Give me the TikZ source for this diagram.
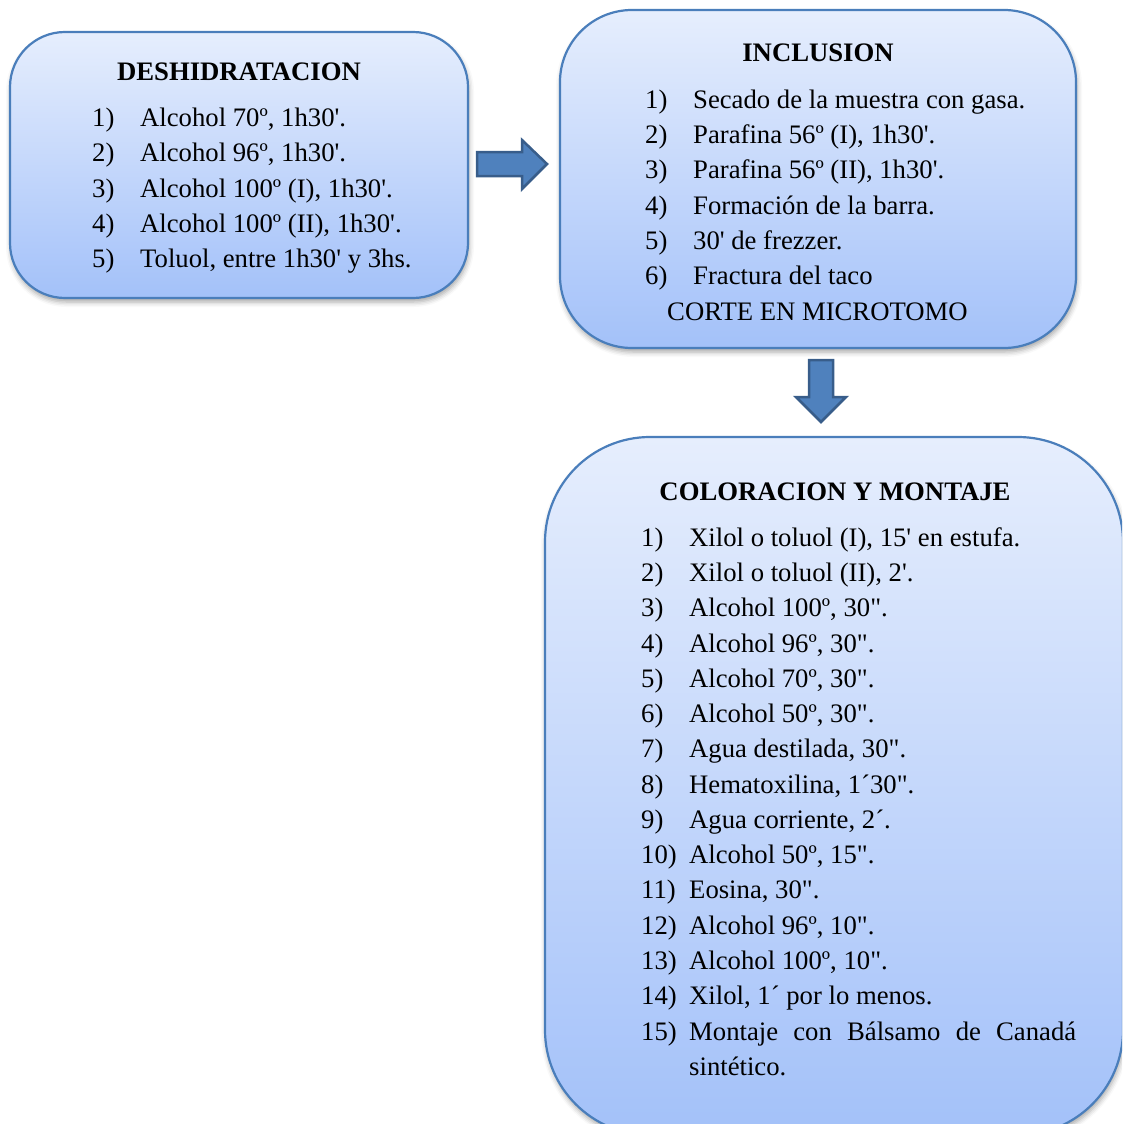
\documentclass[tikz,border=0pt]{standalone}
\usepackage{fontspec}
\setmainfont{Liberation Serif}[Ligatures=TeXOff]
\usetikzlibrary{shadows.blur}
\definecolor{boxtop}{HTML}{E6EEFD}
\definecolor{boxbot}{HTML}{A3C1F9}
\definecolor{boxline}{HTML}{4A7EBB}
\definecolor{arrfill}{HTML}{4F81BD}
\definecolor{arrline}{HTML}{385D8A}
\begin{document}
\begin{tikzpicture}[x=1pt,y=-1pt,
  stage/.style={rectangle, draw=boxline, line width=2.2pt, top color=boxtop,
    bottom color=boxbot, inner sep=0pt, outer sep=0pt,
    blur shadow={shadow xshift=1pt, shadow yshift=-4pt,
      shadow blur radius=5pt, shadow opacity=35}},
  item/.style={anchor=base west, inner sep=0pt, font=\fontsize{26.7}{30}\selectfont},
  title/.style={anchor=base, inner sep=0pt, font=\fontsize{26.7}{30}\selectfont\bfseries},
  blockarrow/.style={fill=arrfill, draw=arrline, line width=2.5pt, line join=miter}]
\useasboundingbox (0,0) rectangle (1122,1124);
\clip (0,0) rectangle (1122,1124);

% stage boxes
\node[stage, rounded corners=55pt, minimum width=458pt, minimum height=266pt] (desh) at (239,165) {};
\node[stage, rounded corners=72pt, minimum width=516pt, minimum height=338pt] (incl) at (818,179) {};
\node[stage, rounded corners=105pt, minimum width=578pt, minimum height=698pt] (colo) at (834,786) {};

% block arrows between the stages
\draw[blockarrow] ([shift={(9,-13)}]desh.east) -- ++(45,0) -- ++(0,-12) -- ++(25,24)
  -- ++(-25,25) -- ++(0,-13) -- ++(-45,0) -- cycle;
\draw[blockarrow] ([shift={(-9,12)}]incl.south) -- ++(24,0) -- ++(0,37) -- ++(13,0)
  -- ++(-25,25) -- ++(-25,-25) -- ++(13,0) -- cycle;

% DESHIDRATACION
\node[title] (deshT) at (239,81) {DESHIDRATACION};
\foreach \n/\y/\t in {1/126/{Alcohol 70º, 1h30'.},
                      2/161/{Alcohol 96º, 1h30'.},
                      3/197/{Alcohol 100º (I), 1h30'.},
                      4/232/{Alcohol 100º (II), 1h30'.},
                      5/267/{Toluol, entre 1h30' y 3hs.}}
  \node[item] (desh\n) at (92,\y) {\makebox[48pt][l]{\n)}\t};

% INCLUSION
\node[title] (inclT) at (818,62) {INCLUSION};
\foreach \n/\y/\t in {1/108/{Secado de la muestra con gasa.},
                      2/143/{Parafina 56º (I), 1h30'.},
                      3/178/{Parafina 56º (II), 1h30'.},
                      4/214/{Formación de la barra.},
                      5/249/{30' de frezzer.},
                      6/284/{Fractura del taco}}
  \node[item] (incl\n) at (645,\y) {\makebox[48pt][l]{\n)}\t};
\node[item] (inclC) at (667,320) {CORTE EN MICROTOMO};

% COLORACION Y MONTAJE
\node[title] (coloT) at (835,500) {COLORACION Y MONTAJE};
\foreach \n/\y/\t in {1/546/{Xilol o toluol (I), 15' en estufa.},
                      2/581/{Xilol o toluol (II), 2'.},
                      3/616/{Alcohol 100º, 30".},
                      4/652/{Alcohol 96º, 30".},
                      5/687/{Alcohol 70º, 30".},
                      6/722/{Alcohol 50º, 30".},
                      7/757/{Agua destilada, 30".},
                      8/793/{Hematoxilina, 1´30".},
                      9/828/{Agua corriente, 2´.},
                      10/863/{Alcohol 50º, 15".},
                      11/898/{Eosina, 30".},
                      12/934/{Alcohol 96º, 10".},
                      13/969/{Alcohol 100º, 10".},
                      14/1004/{Xilol, 1´ por lo menos.}}
  \node[item] (colo\n) at (641,\y) {\makebox[48pt][l]{\n)}\t};
\node[item] (colo15) at (641,1040) {\makebox[48pt][l]{15)}\hbox to 387pt{Montaje\hfill con\hfill Bálsamo\hfill de\hfill Canadá}};
\node[item] (colo15b) at (689,1075) {sintético.};
\end{tikzpicture}
\end{document}
